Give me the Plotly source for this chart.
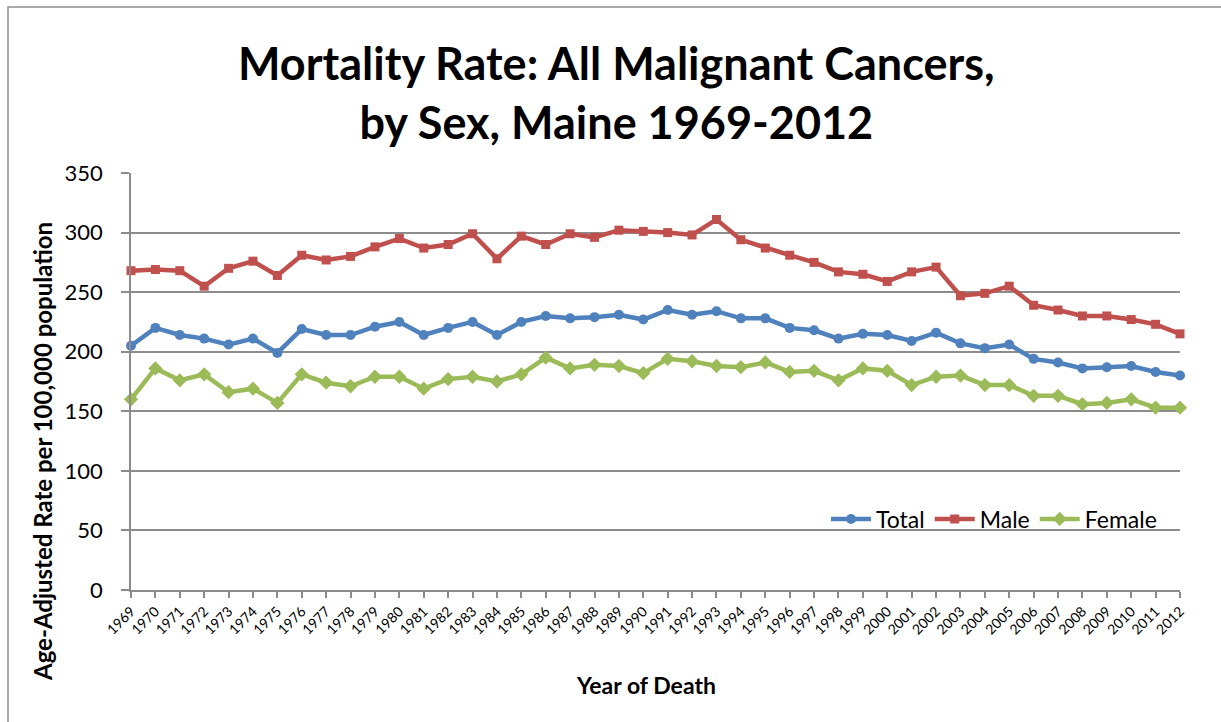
import plotly.graph_objects as go

years = [str(y) for y in range(1969, 2013)]

total = [205, 220, 214, 211, 206, 211, 199, 219, 214, 214, 221, 225, 214, 220, 225,
         214, 225, 230, 228, 229, 231, 227, 235, 231, 234, 228, 228, 220, 218, 211,
         215, 214, 209, 216, 207, 203, 206, 194, 191, 186, 187, 188, 183, 180]

male = [268, 269, 268, 255, 270, 276, 264, 281, 277, 280, 288, 295, 287, 290, 299,
        278, 297, 290, 299, 296, 302, 301, 300, 298, 311, 294, 287, 281, 275, 267,
        265, 259, 267, 271, 247, 249, 255, 239, 235, 230, 230, 227, 223, 215]

female = [160, 186, 176, 181, 166, 169, 157, 181, 174, 171, 179, 179, 169, 177, 179,
          175, 181, 195, 186, 189, 188, 182, 194, 192, 188, 187, 191, 183, 184, 176,
          186, 184, 172, 179, 180, 172, 172, 163, 163, 156, 157, 160, 153, 153]

FONT = "Lato"
GRAY = "#8c8c8c"

# plot area in pixels: left 131, right 1180, top 173, bottom 590
L, R, T, B = 131, 1180, 173, 590
W, H = 1221, 722


def px(x):
    return (x - L) / (R - L)


def py(y):
    return (B - y) / (B - T)


fig = go.Figure()
series = [
    ("Total", total, "#4F81BD", "circle", 10),
    ("Male", male, "#C0504D", "square", 9),
    ("Female", female, "#9BBB59", "diamond", 11),
]
for name, vals, color, sym, size in series:
    fig.add_trace(go.Scatter(
        x=years, y=vals, name=name, mode="lines+markers",
        line=dict(color=color, width=4.5),
        marker=dict(color=color, symbol=sym, size=size),
        cliponaxis=False,
    ))

fig.update_layout(
    width=W, height=H,
    paper_bgcolor="white", plot_bgcolor="white",
    margin=dict(l=L, r=W - R, t=T, b=H - B),
    font=dict(family=FONT, color="black"),
    legend=dict(
        orientation="h", x=px(1162), xanchor="right", y=py(519), yanchor="middle",
        bgcolor="rgba(0,0,0,0)", font=dict(size=23, family=FONT),
        itemwidth=40, tracegroupgap=0,
    ),
    showlegend=True,
    shapes=[dict(type="rect", xref="paper", yref="paper",
                 x0=px(8), x1=1.2, y0=-0.4, y1=py(7),
                 line=dict(color=GRAY, width=1.5), layer="below")],
    annotations=[
        dict(text="<b>Mortality Rate: All Malignant Cancers,<br>by Sex, Maine 1969-2012</b>",
             xref="paper", yref="paper", x=px(616), y=py(92),
             xanchor="center", yanchor="middle", showarrow=False,
             font=dict(family=FONT, size=45, color="black")),
        dict(text="<b>Age-Adjusted Rate per 100,000 population</b>",
             xref="paper", yref="paper", x=px(42), y=py(452), textangle=-90,
             xanchor="center", yanchor="middle", showarrow=False,
             font=dict(family=FONT, size=24, color="black")),
        dict(text="<b>Year of Death</b>",
             xref="paper", yref="paper", x=px(646), y=py(685),
             xanchor="center", yanchor="middle", showarrow=False,
             font=dict(family=FONT, size=23, color="black")),
    ],
)

fig.update_xaxes(
    type="category", range=[0, 43],
    showline=True, linecolor=GRAY, linewidth=1.5,
    ticks="outside", ticklen=6, tickcolor=GRAY, tickwidth=1.5,
    tickangle=-45, tickfont=dict(size=14, family=FONT),
    showgrid=False,
)
fig.update_yaxes(
    range=[0, 350], dtick=50,
    showline=True, linecolor=GRAY, linewidth=1.5,
    ticks="outside", ticklen=8, tickcolor=GRAY, tickwidth=1.5,
    showgrid=True, gridcolor=GRAY, gridwidth=1.5,
    zeroline=False,
    ticklabelstandoff=14,
    tickfont=dict(size=22, family=FONT),
)

fig.write_html("out.html")
